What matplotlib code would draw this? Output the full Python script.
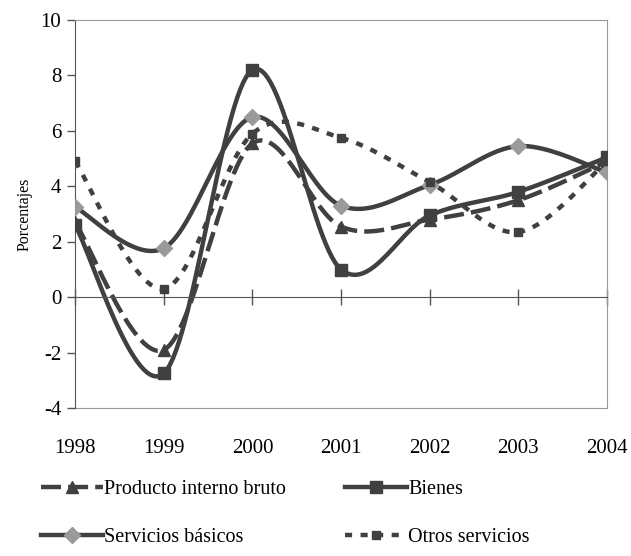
import matplotlib
matplotlib.use("Agg")
import matplotlib.pyplot as plt
import numpy as np

years = ["1998", "1999", "2000", "2001", "2002", "2003", "2004"]
pib = [2.7, -1.9, 5.55, 2.55, 2.8, 3.5, 4.9]
bienes = [2.6, -2.75, 8.2, 1.0, 2.95, 3.8, 5.05]
servicios_basicos = [3.25, 1.77, 6.5, 3.3, 4.05, 5.45, 4.5]
otros_servicios = [4.9, 0.3, 5.9, 5.75, 4.15, 2.35, 4.9]

DARK = "#404040"
GREY = "#9a9a9a"
plt.rcParams["font.family"] = ["Liberation Serif", "DejaVu Serif"]
plt.rcParams["axes.unicode_minus"] = False


def smooth(y, n=30):
    # Excel-style smoothed line: Catmull-Rom through the points
    x = np.arange(len(y), dtype=float)
    p = np.c_[x, np.asarray(y, float)]
    pts = np.vstack([p[0], p, p[-1]])
    out = []
    t = np.linspace(0, 1, n)[:, None]
    for i in range(1, len(pts) - 2):
        p0, p1, p2, p3 = pts[i - 1], pts[i], pts[i + 1], pts[i + 2]
        c1 = p1 + (p2 - p0) / 6
        c2 = p2 - (p3 - p1) / 6
        seg = ((1 - t) ** 3 * p1 + 3 * (1 - t) ** 2 * t * c1
               + 3 * (1 - t) * t ** 2 * c2 + t ** 3 * p2)
        out.append(seg if i == 1 else seg[1:])
    s = np.vstack(out)
    return s[:, 0], s[:, 1]


fig = plt.figure(figsize=(6.31, 5.56), dpi=100)
ax = fig.add_axes([0.119, 0.266, 0.843, 0.698])

series = [
    ("Producto interno bruto", pib, dict(ls=(0, (4.5, 1.6))), "^", DARK, 9),
    ("Bienes", bienes, dict(ls="-"), "s", DARK, 9),
    ("Servicios básicos", servicios_basicos, dict(ls="-"), "D", GREY, 8),
    ("Otros servicios", otros_servicios, dict(ls=(0, (1.6, 1.9))), "s", DARK, 6),
]
xi = np.arange(len(years))
handles = {}
for name, vals, style, mk, mc, ms in series:
    sx, sy = smooth(vals)
    ax.plot(sx, sy, color=DARK, lw=3.2, solid_capstyle="butt",
            dash_capstyle="butt", zorder=2, **style)
    ax.plot(xi, vals, ls="none", marker=mk, color=mc, ms=ms, mec=mc,
            zorder=3)
    h, = ax.plot([], [], color=DARK, lw=3.2, marker=mk, mfc=mc, mec=mc,
                 ms=ms, dash_capstyle="butt", label=name, **style)
    handles[name] = h

ax.set_xlim(0, len(years) - 1)
ax.set_ylim(-4, 10)
ax.set_yticks(range(-4, 11, 2))
ax.tick_params(axis="y", direction="out", length=6, width=1, color="#555555",
               labelsize=15, pad=4)
ax.set_ylabel("Porcentajes", fontsize=11.5, labelpad=6)

ax.spines["bottom"].set_position(("data", 0))
ax.spines["bottom"].set_color("#555555")
ax.spines["left"].set_color("#555555")
for s in ("top", "right"):
    ax.spines[s].set_color("#999999")
ax.set_xticks(xi)
ax.tick_params(axis="x", direction="inout", length=12, width=1,
               color="#555555", labelbottom=False)

sec = ax.secondary_xaxis("bottom", functions=(lambda v: v, lambda v: v))
sec.spines["bottom"].set_color("#999999")
sec.set_xticks(xi)
sec.set_xticklabels(years)
sec.tick_params(length=0, labelsize=15, pad=22)

# legend fills row by row in the reference
order = ["Producto interno bruto", "Servicios básicos", "Bienes",
         "Otros servicios"]
fig.legend(handles=[handles[k] for k in order], loc="upper left",
           bbox_to_anchor=(0.052, 0.152), ncol=2, frameon=False,
           fontsize=14.5, handlelength=3.1, columnspacing=2.9,
           handletextpad=0.05, labelspacing=1.45, borderaxespad=0)

fig.savefig("out.png", dpi=100)
